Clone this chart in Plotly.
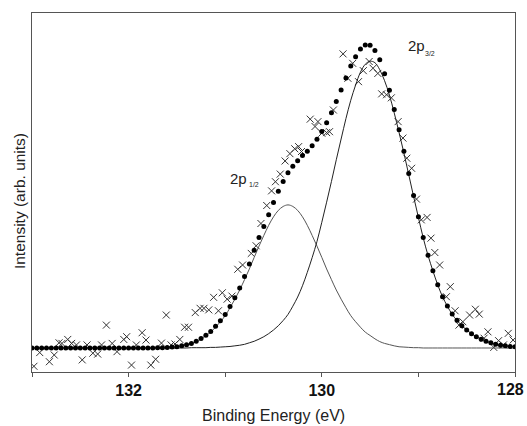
import plotly.graph_objects as go

# Binding energy grid (eV) for envelope and components
energy = [133.00, 132.95, 132.90, 132.85, 132.80, 132.75, 132.70, 132.65, 132.60, 132.55,
          132.50, 132.45, 132.40, 132.35, 132.30, 132.25, 132.20, 132.15, 132.10, 132.05,
          132.00, 131.95, 131.90, 131.85, 131.80, 131.75, 131.70, 131.65, 131.60, 131.55,
          131.50, 131.45, 131.40, 131.35, 131.30, 131.25, 131.20, 131.15, 131.10, 131.05,
          131.00, 130.95, 130.90, 130.85, 130.80, 130.75, 130.70, 130.65, 130.60, 130.55,
          130.50, 130.45, 130.40, 130.35, 130.30, 130.25, 130.20, 130.15, 130.10, 130.05,
          130.00, 129.95, 129.90, 129.85, 129.80, 129.75, 129.70, 129.65, 129.60, 129.55,
          129.50, 129.45, 129.40, 129.35, 129.30, 129.25, 129.20, 129.15, 129.10, 129.05,
          129.00, 128.95, 128.90, 128.85, 128.80, 128.75, 128.70, 128.65, 128.60, 128.55,
          128.50, 128.45, 128.40, 128.35, 128.30, 128.25, 128.20, 128.15, 128.10, 128.05,
          128.00]

# Fitted envelope (dots)
envelope = [0, 0, 0, 0, 0, 0, 0, 0, 0, 0,
            0, 0, 0, 0, 0, 0, 0, 0, 0, 0,
            0, 0, 0, 0, 0, 0, 0.001, 0.001, 0.002, 0.003,
            0.004, 0.007, 0.011, 0.015, 0.022, 0.031, 0.042, 0.054, 0.071, 0.089,
            0.110, 0.136, 0.165, 0.197, 0.234, 0.275, 0.320, 0.362, 0.398, 0.437,
            0.477, 0.514, 0.546, 0.574, 0.596, 0.614, 0.631, 0.645, 0.663, 0.684,
            0.710, 0.738, 0.771, 0.808, 0.846, 0.885, 0.924, 0.955, 0.980, 0.993,
            0.992, 0.975, 0.945, 0.899, 0.845, 0.782, 0.715, 0.645, 0.572, 0.500,
            0.430, 0.362, 0.304, 0.253, 0.207, 0.168, 0.138, 0.111, 0.091, 0.073,
            0.059, 0.047, 0.037, 0.029, 0.022, 0.017, 0.012, 0.009, 0.007, 0.005,
            0.004]

# 2p3/2 component
comp_32 = [0, 0, 0, 0, 0, 0, 0, 0, 0, 0,
           0, 0, 0, 0, 0, 0, 0, 0, 0, 0,
           0, 0, 0, 0, 0, 0, 0, 0, 0, 0,
           0, 0, 0, 0.001, 0.001, 0.001, 0.001, 0.002, 0.002, 0.003,
           0.004, 0.005, 0.007, 0.009, 0.012, 0.017, 0.022, 0.029, 0.037, 0.047,
           0.059, 0.073, 0.090, 0.110, 0.137, 0.167, 0.204, 0.248, 0.296, 0.349,
           0.412, 0.478, 0.546, 0.617, 0.685, 0.752, 0.812, 0.862, 0.904, 0.930,
           0.940, 0.935, 0.912, 0.876, 0.829, 0.770, 0.706, 0.639, 0.568, 0.497,
           0.428, 0.361, 0.303, 0.253, 0.207, 0.168, 0.137, 0.110, 0.090, 0.073,
           0.059, 0.047, 0.037, 0.029, 0.022, 0.017, 0.012, 0.009, 0.007, 0.005,
           0.004]

# 2p1/2 component
comp_12 = [0, 0, 0, 0, 0, 0, 0, 0, 0, 0,
           0, 0, 0, 0, 0, 0, 0, 0, 0, 0,
           0, 0, 0, 0, 0, 0, 0.001, 0.001, 0.002, 0.003,
           0.004, 0.007, 0.011, 0.015, 0.021, 0.030, 0.041, 0.052, 0.068, 0.086,
           0.106, 0.132, 0.160, 0.190, 0.224, 0.259, 0.297, 0.334, 0.369, 0.402,
           0.430, 0.451, 0.464, 0.469, 0.464, 0.451, 0.430, 0.402, 0.369, 0.334,
           0.297, 0.259, 0.224, 0.190, 0.160, 0.132, 0.106, 0.086, 0.068, 0.052,
           0.041, 0.030, 0.021, 0.015, 0.011, 0.007, 0.004, 0.003, 0.002, 0.001,
           0.001, 0, 0, 0, 0, 0, 0, 0, 0, 0,
           0, 0, 0, 0, 0, 0, 0, 0, 0, 0,
           0]

# Raw data (crosses)
cross_be = [132.98, 132.92, 132.82, 132.77, 132.72, 132.69, 132.63, 132.59, 132.54, 132.48,
            132.43, 132.37, 132.32, 132.28, 132.23, 132.17, 132.12, 132.05, 132.02, 131.97,
            131.92, 131.86, 131.82, 131.77, 131.72, 131.66, 131.61, 131.56, 131.52, 131.47,
            131.42, 131.38, 131.31, 131.26, 131.22, 131.17, 131.12, 131.07, 131.03, 130.98,
            130.93, 130.87, 130.82, 130.73, 130.68, 130.63, 130.57, 130.52, 130.48, 130.43,
            130.38, 130.33, 130.28, 130.24, 130.21, 130.12, 130.07, 130.04, 130.00, 129.95,
            129.92, 129.88, 129.78, 129.73, 129.68, 129.62, 129.57, 129.51, 129.47, 129.42,
            129.38, 129.33, 129.28, 129.21, 129.16, 129.12, 129.07, 129.02, 128.97, 128.91,
            128.87, 128.83, 128.78, 128.71, 128.67, 128.62, 128.58, 128.54, 128.47, 128.41,
            128.37, 128.32, 128.28, 128.22, 128.17, 128.12, 128.07, 128.02]
cross_int = [-0.060, -0.015, -0.045, -0.023, 0.017, 0.015, 0.028, 0.015, 0.010, -0.039,
             0.010, -0.017, -0.020, 0.010, 0.075, 0.015, -0.012, 0.028, 0.037, -0.056,
             0.010, 0.050, 0.026, -0.056, -0.037, 0.016, 0.108, 0.010, 0.013, 0.028,
             0.068, 0.068, 0.116, 0.130, 0.130, 0.125, 0.166, 0.122, 0.181, 0.160,
             0.170, 0.258, 0.272, 0.310, 0.335, 0.408, 0.467, 0.515, 0.545, 0.570,
             0.613, 0.637, 0.653, 0.660, 0.644, 0.750, 0.726, 0.742, 0.704, 0.706,
             0.709, 0.780, 0.964, 0.884, 0.933, 0.873, 0.909, 0.939, 0.917, 0.900,
             0.833, 0.830, 0.820, 0.742, 0.688, 0.622, 0.589, 0.488, 0.420, 0.428,
             0.360, 0.313, 0.272, 0.168, 0.201, 0.122, 0.075, 0.086, 0.108, 0.127,
             0.111, 0.032, 0.053, 0.002, 0.024, 0.010, 0.048, 0.026]

tick_vals = [133, 132, 131, 130, 129, 128]
tick_text = ["", "132", "", "130", "", ""]
edge_label_value = 128
edge_label_text = "128"

fig = go.Figure()
fig.add_trace(go.Scatter(x=cross_be, y=cross_int, mode="markers",
                         marker=dict(symbol="x-thin", size=7, color="#333",
                                     line=dict(width=1, color="#333"))))
fig.add_trace(go.Scatter(x=energy, y=comp_12, mode="lines",
                         line=dict(color="#555", width=1, shape="spline")))
fig.add_trace(go.Scatter(x=energy, y=comp_32, mode="lines",
                         line=dict(color="#222", width=1, shape="spline")))
fig.add_trace(go.Scatter(x=energy, y=envelope, mode="markers",
                         marker=dict(symbol="circle", size=5, color="black")))

FONT = "Liberation Sans, Arial, sans-serif"
fig.update_layout(
    width=527, height=426, autosize=False,
    margin=dict(l=32, r=12, t=13, b=54),
    plot_bgcolor="white", paper_bgcolor="white",
    showlegend=False,
    font=dict(family=FONT, color="#222"),
    xaxis=dict(range=[133, 128], autorange=False, tickvals=tick_vals, ticktext=tick_text,
               ticks="outside", ticklen=4, tickcolor="#555", tickwidth=1,
               showline=True, linecolor="#555", linewidth=1, mirror=True,
               showgrid=False, zeroline=False,
               tickfont=dict(family=FONT, size=16, weight="bold", color="#111")),
    yaxis=dict(range=[-0.0787, 1.098], autorange=False, showticklabels=False, ticks="",
               showline=True, linecolor="#555", linewidth=1, mirror=True,
               showgrid=False, zeroline=False),
    annotations=[
        dict(text=edge_label_text, xref="x", yref="paper", x=edge_label_value, y=-0.05,
             xanchor="right", xshift=11, yanchor="middle", showarrow=False,
             font=dict(family=FONT, size=16, weight="bold", color="#111")),
        dict(text="Binding Energy (eV)", xref="paper", yref="paper", x=0.5, y=-0.121,
             xanchor="center", yanchor="middle", showarrow=False,
             font=dict(family=FONT, size=16, color="#222")),
        dict(text="Intensity (arb. units)", xref="paper", yref="paper", x=-0.027, y=0.476,
             xanchor="center", yanchor="middle", showarrow=False, textangle=-90,
             font=dict(family=FONT, size=15.5, color="#222")),
        dict(text="2p", xref="x", yref="y", x=130.97, y=0.557, xanchor="left",
             yanchor="middle", showarrow=False, font=dict(family=FONT, size=15, color="#222")),
        dict(text="1/2", xref="x", yref="y", x=130.77, y=0.536, xanchor="left",
             yanchor="middle", showarrow=False, font=dict(family=FONT, size=7, color="#222")),
        dict(text="2p", xref="x", yref="y", x=129.13, y=0.99, xanchor="left",
             yanchor="middle", showarrow=False, font=dict(family=FONT, size=15, color="#222")),
        dict(text="3/2", xref="x", yref="y", x=128.95, y=0.966, xanchor="left",
             yanchor="middle", showarrow=False, font=dict(family=FONT, size=7, color="#222")),
    ],
)

fig.write_html("out.html", config={"displayModeBar": False},
               post_script="document.body.style.margin='0px';document.body.style.overflow='hidden';")
